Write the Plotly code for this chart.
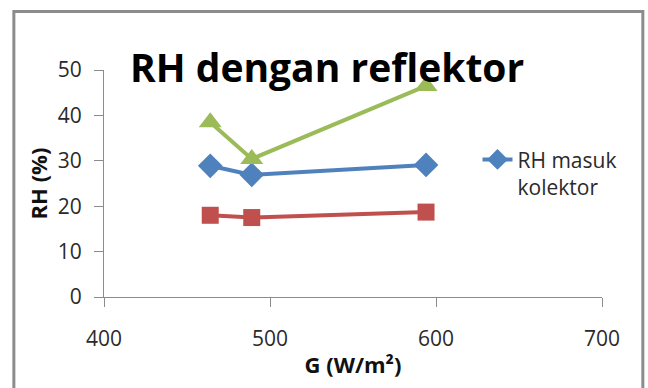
import plotly.graph_objects as go

# Irradiance G (W/m2) for each measurement
g_values = [464, 489, 594]

# Relative humidity series (%)
rh_masuk = [28.9, 26.9, 29.1]
rh_red = [18.0, 17.5, 18.7]
rh_green = [38.5, 30.4, 46.5]

x_ticks = [400, 500, 600, 700]
y_ticks = [0, 10, 20, 30, 40, 50]

FONT = "Open Sans"

fig = go.Figure()
fig.add_trace(go.Scatter(
    x=g_values, y=rh_masuk, mode="lines+markers", name="RH masuk<br>kolektor",
    line=dict(color="#4F81BD", width=4),
    marker=dict(symbol="diamond", size=19, color="#4F81BD"),
))
fig.add_trace(go.Scatter(
    x=g_values, y=rh_red, mode="lines+markers", name="RH keluar", showlegend=False,
    line=dict(color="#C0504D", width=4),
    marker=dict(symbol="square", size=17, color="#C0504D"),
))
fig.add_trace(go.Scatter(
    x=g_values, y=rh_green, mode="lines+markers", name="RH ruang", showlegend=False,
    line=dict(color="#9BBB59", width=4),
    marker=dict(symbol="triangle-up", size=20, color="#9BBB59"),
))

axis_common = dict(
    showgrid=False, zeroline=False, showline=True, linecolor="#8c8c8c", linewidth=1,
    ticks="outside", ticklen=9, tickcolor="#8c8c8c",
    tickfont=dict(family=FONT, size=21, color="#2a2a2a"),
)

fig.update_layout(
    width=648, height=388,
    margin=dict(l=104, r=46, t=70, b=91),
    paper_bgcolor="white", plot_bgcolor="white",
    xaxis=dict(range=[400, 700], tickvals=x_ticks, ticklabelstandoff=14, **axis_common,
               title=dict(text="<b>G (W/m²)</b>", font=dict(family=FONT, size=22, color="#111"), standoff=6)),
    yaxis=dict(range=[0, 50], tickvals=y_ticks, ticklabelstandoff=8, **axis_common,
               title=dict(text="<b>RH (%)</b>", font=dict(family=FONT, size=22, color="#111"), standoff=4)),
    legend=dict(x=0.75, y=0.695, xanchor="left", yanchor="top", valign="top",
                font=dict(family=FONT, size=21, color="#2a2a2a"), bgcolor="rgba(0,0,0,0)"),
    showlegend=True,
)

fig.add_annotation(
    text="<b>RH dengan reflektor</b>", xref="paper", yref="paper",
    x=0.448, y=1.015, xanchor="center", yanchor="middle", showarrow=False,
    font=dict(family=FONT, size=39, color="black"),
)

# Chart-area frame
fig.add_shape(type="rect", xref="paper", yref="paper",
              x0=-0.181, x1=1.082, y0=-0.5, y1=1.258,
              line=dict(color="#8c8c8c", width=3), fillcolor="rgba(0,0,0,0)", layer="below")

fig.write_html("out.html")
